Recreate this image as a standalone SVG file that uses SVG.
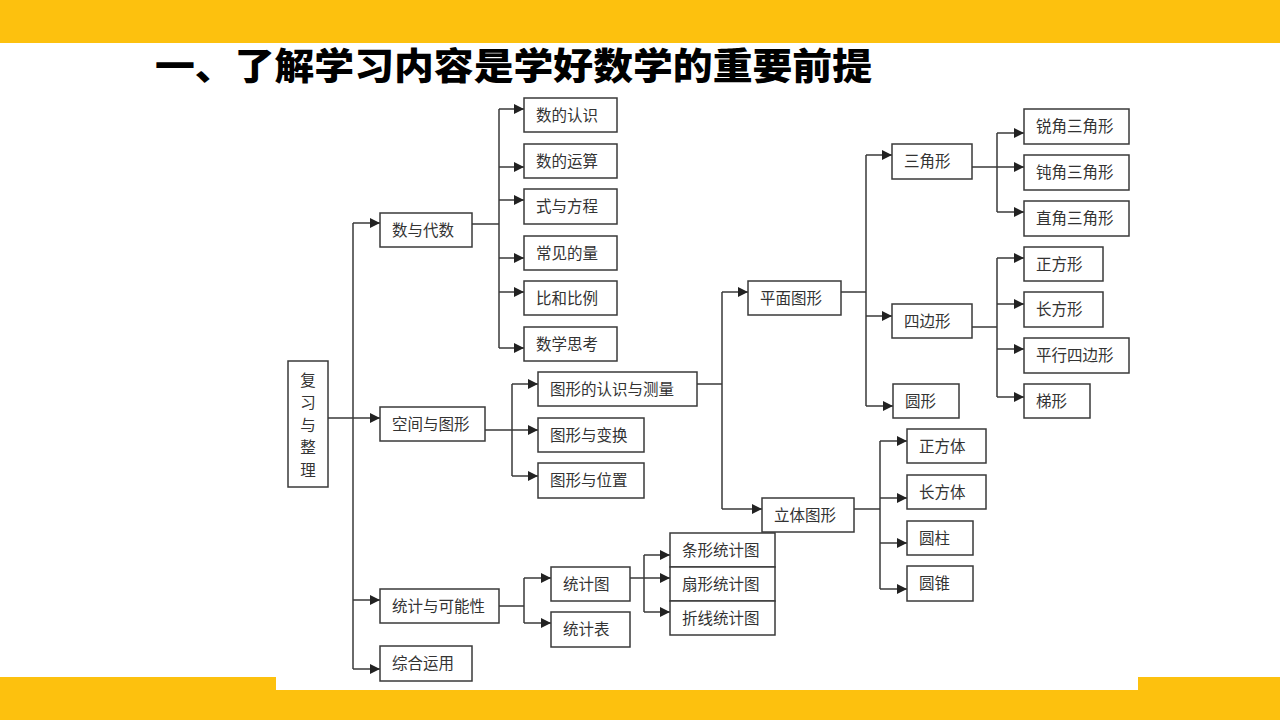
<svg xmlns="http://www.w3.org/2000/svg" width="1280" height="720" viewBox="0 0 1280 720">
<defs>
<style>
.bar{fill:#FDC10E}
.box{fill:#fff;stroke:#3a3a3a;stroke-width:1.5}
.t{font-family:"Noto Sans CJK SC","Noto Sans",sans-serif;font-size:15.5px;fill:#333}
.tv{font-family:"Noto Sans CJK SC","Noto Sans",sans-serif;font-size:15.5px;fill:#333;text-anchor:middle}
.ln{fill:none;stroke:#3a3a3a;stroke-width:1.5}
.ar{fill:none;stroke:#3a3a3a;stroke-width:1.5;marker-end:url(#ah)}
.title{font-family:"Noto Sans CJK SC","Noto Sans",sans-serif;font-size:37px;font-weight:900;fill:#000}
</style>
<marker id="ah" viewBox="0 0 10 10" refX="10" refY="5" markerWidth="10" markerHeight="10" markerUnits="userSpaceOnUse" orient="auto">
<path d="M0,0 L10,5 L0,10 z" fill="#222"/>
</marker>
</defs>
<rect width="1280" height="720" fill="#fff"/>
<rect class="bar" x="0" y="0" width="1280" height="43"/>
<rect class="bar" x="0" y="677" width="1280" height="43"/>
<rect x="276" y="92" width="862" height="598" fill="#fff"/>
<text class="title" x="155" y="80" textLength="717" lengthAdjust="spacingAndGlyphs">一、了解学习内容是学好数学的重要前提</text>

<g id="connectors">
<path class="ln" d="M328,418 H353 M353,223 V669"/>
<path class="ar" d="M353,223 H380"/>
<path class="ar" d="M353,418 H380"/>
<path class="ar" d="M353,600 H380"/>
<path class="ar" d="M353,669 H380"/>

<path class="ln" d="M472,224 H499 M499,109 V348"/>
<path class="ar" d="M499,109 H524"/>
<path class="ar" d="M499,167 H524"/>
<path class="ar" d="M499,200 H524"/>
<path class="ar" d="M499,258 H524"/>
<path class="ar" d="M499,292 H524"/>
<path class="ar" d="M499,348 H524"/>

<path class="ln" d="M485,430 H512 M512,384 V476"/>
<path class="ar" d="M512,384 H538"/>
<path class="ar" d="M512,430 H538"/>
<path class="ar" d="M512,476 H538"/>

<path class="ln" d="M697,384 H722 M722,292 V509"/>
<path class="ar" d="M722,292 H748"/>
<path class="ar" d="M722,509 H762"/>

<path class="ln" d="M841,292 H866 M866,155 V406"/>
<path class="ar" d="M866,155 H892"/>
<path class="ar" d="M866,316 H892"/>
<path class="ar" d="M866,406 H893"/>

<path class="ln" d="M972,167 H997 M997,133 V212"/>
<path class="ar" d="M997,133 H1024"/>
<path class="ar" d="M997,167 H1024"/>
<path class="ar" d="M997,212 H1024"/>

<path class="ln" d="M972,327 H997 M997,258 V397"/>
<path class="ar" d="M997,258 H1024"/>
<path class="ar" d="M997,304 H1024"/>
<path class="ar" d="M997,349 H1024"/>
<path class="ar" d="M997,397 H1024"/>

<path class="ln" d="M854,509 H880 M880,441 V589"/>
<path class="ar" d="M880,441 H907"/>
<path class="ar" d="M880,498 H907"/>
<path class="ar" d="M880,543 H907"/>
<path class="ar" d="M880,589 H907"/>

<path class="ln" d="M499,606 H524 M524,578 V623"/>
<path class="ar" d="M524,578 H551"/>
<path class="ar" d="M524,623 H551"/>

<path class="ln" d="M630,578 H644 M644,555 V612"/>
<path class="ar" d="M644,555 H670"/>
<path class="ar" d="M644,578 H670"/>
<path class="ar" d="M644,612 H670"/>
</g>

<g id="n-root"><rect class="box" x="288" y="361" width="40" height="126"/>
<text class="tv" x="308" y="385.5">复</text><text class="tv" x="308" y="408">习</text><text class="tv" x="308" y="430.5">与</text><text class="tv" x="308" y="453">整</text><text class="tv" x="308" y="475.5">理</text></g>

<g id="n-sydsh"><rect class="box" x="380" y="213" width="92" height="34"/><text class="t" x="392" y="235.5">数与代数</text></g>
<g id="n-kjytx"><rect class="box" x="380" y="407" width="105" height="34"/><text class="t" x="392" y="429.5">空间与图形</text></g>
<g id="n-tjyknx"><rect class="box" x="380" y="589" width="119" height="34"/><text class="t" x="392" y="611.5">统计与可能性</text></g>
<g id="n-zhyy"><rect class="box" x="380" y="646" width="92" height="35"/><text class="t" x="392" y="669">综合运用</text></g>

<g id="n-sdrs"><rect class="box" x="524" y="98" width="93" height="34"/><text class="t" x="536" y="120.5">数的认识</text></g>
<g id="n-sdys"><rect class="box" x="524" y="144" width="93" height="34"/><text class="t" x="536" y="166.5">数的运算</text></g>
<g id="n-syfc"><rect class="box" x="524" y="189" width="93" height="35"/><text class="t" x="536" y="212">式与方程</text></g>
<g id="n-cjdl"><rect class="box" x="524" y="236" width="93" height="34"/><text class="t" x="536" y="258.5">常见的量</text></g>
<g id="n-bhbl"><rect class="box" x="524" y="281" width="93" height="34"/><text class="t" x="536" y="303.5">比和比例</text></g>
<g id="n-sxsk"><rect class="box" x="524" y="327" width="93" height="34"/><text class="t" x="536" y="349.5">数学思考</text></g>

<g id="n-txdrs"><rect class="box" x="538" y="372" width="159" height="34"/><text class="t" x="550" y="394.5">图形的认识与测量</text></g>
<g id="n-txybh"><rect class="box" x="538" y="418" width="106" height="34"/><text class="t" x="550" y="440.5">图形与变换</text></g>
<g id="n-txywz"><rect class="box" x="538" y="463" width="106" height="35"/><text class="t" x="550" y="486">图形与位置</text></g>

<g id="n-pmtx"><rect class="box" x="748" y="281" width="93" height="34"/><text class="t" x="760" y="303.5">平面图形</text></g>
<g id="n-lttx"><rect class="box" x="762" y="498" width="92" height="34"/><text class="t" x="774" y="520.5">立体图形</text></g>

<g id="n-sjx"><rect class="box" x="892" y="144" width="80" height="35"/><text class="t" x="904" y="167">三角形</text></g>
<g id="n-sbx"><rect class="box" x="892" y="304" width="80" height="34"/><text class="t" x="904" y="326.5">四边形</text></g>
<g id="n-yx"><rect class="box" x="893" y="384" width="66" height="34"/><text class="t" x="905" y="406.5">圆形</text></g>

<g id="n-rjsjx"><rect class="box" x="1024" y="109" width="105" height="35"/><text class="t" x="1036" y="132">锐角三角形</text></g>
<g id="n-djsjx"><rect class="box" x="1024" y="155" width="105" height="35"/><text class="t" x="1036" y="178">钝角三角形</text></g>
<g id="n-zjsjx"><rect class="box" x="1024" y="201" width="105" height="35"/><text class="t" x="1036" y="224">直角三角形</text></g>

<g id="n-zfx"><rect class="box" x="1024" y="247" width="79" height="34"/><text class="t" x="1036" y="269.5">正方形</text></g>
<g id="n-cfx"><rect class="box" x="1024" y="292" width="79" height="35"/><text class="t" x="1036" y="315">长方形</text></g>
<g id="n-pxsbx"><rect class="box" x="1024" y="338" width="105" height="35"/><text class="t" x="1036" y="361">平行四边形</text></g>
<g id="n-tx"><rect class="box" x="1024" y="384" width="66" height="34"/><text class="t" x="1036" y="406.5">梯形</text></g>

<g id="n-zft"><rect class="box" x="907" y="429" width="79" height="34"/><text class="t" x="919" y="451.5">正方体</text></g>
<g id="n-cft"><rect class="box" x="907" y="475" width="79" height="34"/><text class="t" x="919" y="497.5">长方体</text></g>
<g id="n-yz"><rect class="box" x="907" y="521" width="66" height="34"/><text class="t" x="919" y="543.5">圆柱</text></g>
<g id="n-yzhui"><rect class="box" x="907" y="566" width="66" height="35"/><text class="t" x="919" y="589">圆锥</text></g>

<g id="n-tjt"><rect class="box" x="551" y="567" width="79" height="34"/><text class="t" x="563" y="589.5">统计图</text></g>
<g id="n-tjb"><rect class="box" x="551" y="612" width="79" height="35"/><text class="t" x="563" y="635">统计表</text></g>

<g id="n-txtjt"><rect class="box" x="670" y="533" width="105" height="34"/><text class="t" x="682" y="555.5">条形统计图</text></g>
<g id="n-sxtjt"><rect class="box" x="670" y="567" width="105" height="34"/><text class="t" x="682" y="589.5">扇形统计图</text></g>
<g id="n-zxtjt"><rect class="box" x="670" y="601" width="105" height="34"/><text class="t" x="682" y="623.5">折线统计图</text></g>
</svg>
